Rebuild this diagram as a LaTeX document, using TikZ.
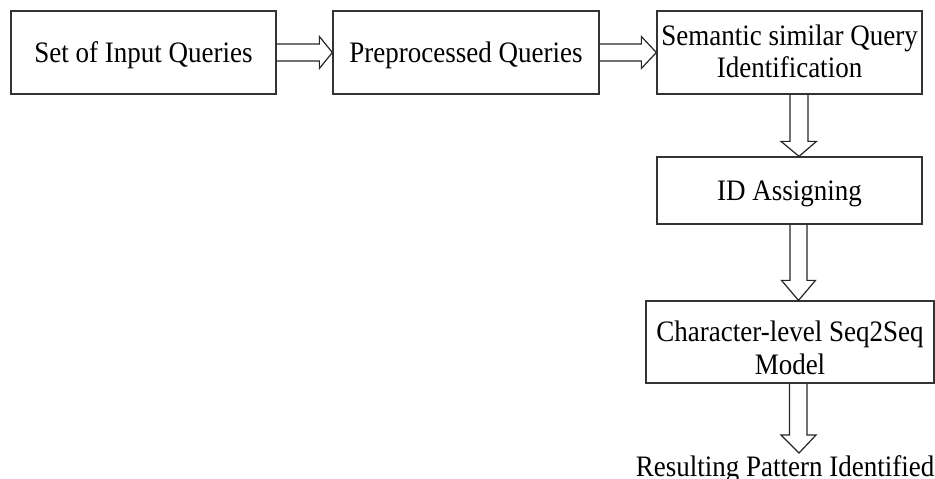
\documentclass[tikz,border=0pt]{standalone}
\usepackage{fontspec}
\usepackage{graphicx}
\setmainfont{Liberation Serif}
\usetikzlibrary{calc}
\newcommand\vtxt[2][4pt]{\raisebox{-#1}[\height][\depth]{\scalebox{1}[1.1]{\begin{tabular}{@{}c@{}}#2\end{tabular}}}}
\begin{document}
\begin{tikzpicture}[x=1pt,y=-1pt,
  box/.style={draw=black!80,line width=1.3pt,fill=white,inner sep=0pt,align=center,
    font=\fontsize{27}{29}\selectfont},
  barrow/.style={draw=black!85,line width=1.2pt,line join=miter}]
\useasboundingbox (0,0) rectangle (935,479);
\node[box,minimum width=265,minimum height=83] (a) at (143.5,52.5) {\vtxt{Set of Input Queries}};
\node[box,minimum width=266,minimum height=83] (b) at (466,52.5) {\vtxt{Preprocessed Queries}};
\node[box,minimum width=265,minimum height=83] (c) at (789.5,52.5) {\vtxt[3pt]{Semantic similar Query\\Identification}};
\node[box,minimum width=265,minimum height=67] (d) at (789.5,190.5) {\vtxt{ID Assigning}};
\node[box,minimum width=288,minimum height=82] (e) at (790,342) {\vtxt[10pt]{Character-level Seq2Seq\\[1pt]Model}};
\node[anchor=base,inner sep=0pt,font=\fontsize{27}{29}\selectfont] (f) at (785,476.5) {\scalebox{1}[1.1]{Resulting Pattern Identified}};
\coordinate (fend) at (799,453);
% horizontal block arrows
\draw[barrow] let \p1=(a.east), \p2=(b.west) in
  (\x1,\y1+8.5pt) -- (\x2-13pt,\y1+8.5pt) -- (\x2-13pt,\y1+16pt) -- (\x2,\y1)
  -- (\x2-13pt,\y1-16pt) -- (\x2-13pt,\y1-8.5pt) -- (\x1,\y1-8.5pt);
\draw[barrow] let \p1=(b.east), \p2=(c.west) in
  (\x1,\y1+8.5pt) -- (\x2-15pt,\y1+8.5pt) -- (\x2-15pt,\y1+16pt) -- (\x2,\y1)
  -- (\x2-15pt,\y1-16pt) -- (\x2-15pt,\y1-8.5pt) -- (\x1,\y1-8.5pt);
% vertical block arrows
\draw[barrow] let \p1=(c.south), \p2=(d.north) in
  (\x1+0.5pt,\y1) -- (\x1+0.5pt,\y2+15pt) -- (\x1-8.5pt,\y2+15pt) -- (\x1+9.5pt,\y2)
  -- (\x1+27pt,\y2+15pt) -- (\x1+18.5pt,\y2+15pt) -- (\x1+18.5pt,\y1);
\draw[barrow] let \p1=(d.south), \p2=(e.north) in
  (\x1+0.5pt,\y1) -- (\x1+0.5pt,\y2+20pt) -- (\x1-8pt,\y2+20pt) -- (\x1+9pt,\y2)
  -- (\x1+26pt,\y2+20pt) -- (\x1+17.5pt,\y2+20pt) -- (\x1+17.5pt,\y1);
\draw[barrow] let \p1=(e.south), \p2=(fend) in
  (\x1-0.5pt,\y1) -- (\x1-0.5pt,\y2+18pt) -- (\x1-9pt,\y2+18pt) -- (\x2,\y2)
  -- (\x1+26pt,\y2+18pt) -- (\x1+17pt,\y2+18pt) -- (\x1+17pt,\y1);
\end{tikzpicture}
\end{document}
